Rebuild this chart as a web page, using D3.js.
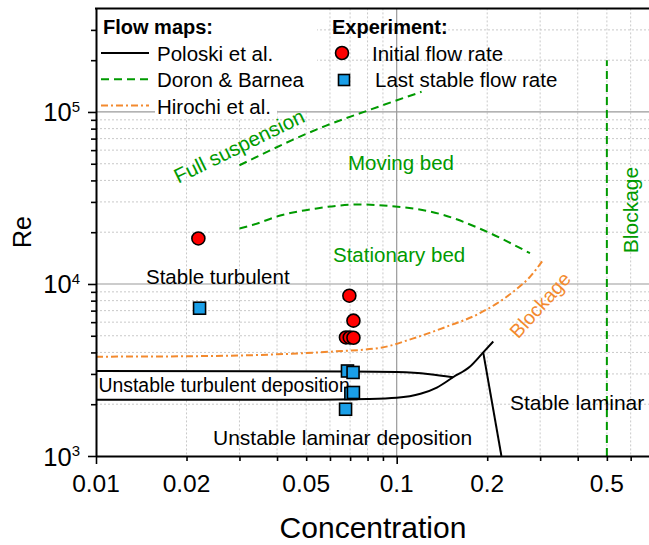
<!DOCTYPE html>
<html>
<head>
<meta charset="utf-8">
<title>Flow map</title>
<script src="https://cdn.jsdelivr.net/npm/d3@7"></script>
<style>
  body { margin: 0; background: #fff; }
  svg text { font-family: "Liberation Sans", Arial, sans-serif; fill: #000; }
</style>
</head>
<body>
<svg id="chart" width="649" height="545"></svg>
<script>
// tick values
var xLabels = [0.01, 0.02, 0.05, 0.1, 0.2, 0.5];
var xMajor = [0.01, 0.1];
var xMinor = [0.02, 0.03, 0.04, 0.05, 0.06, 0.07, 0.08, 0.09, 0.2, 0.3, 0.4, 0.5, 0.6];
var yMajor = [1e3, 1e4, 1e5];
var yMinor = [2e3, 3e3, 4e3, 5e3, 6e3, 7e3, 8e3, 9e3, 2e4, 3e4, 4e4, 5e4, 6e4, 7e4, 8e4, 9e4, 2e5, 3e5];

// Poloski et al. (concentration, Re)
var poloskiUpper = [[0.01, 3120], [0.07, 3100], [0.1, 3080], [0.114, 3050], [0.129, 2990], [0.154, 2870]];
var poloskiLower = [[0.01, 2120], [0.05, 2125], [0.08, 2145], [0.1, 2180], [0.12, 2300], [0.136, 2500],
                    [0.154, 2870], [0.175, 3300], [0.194, 4000], [0.2095, 4630]];
var poloskiLaminar = [[0.194, 4000], [0.223, 1000]];

// Doron & Barnea
var doronSuspension = [[0.030, 49000], [0.058, 83000], [0.0815, 103000], [0.121, 131000]];
var doronBed = [[0.030, 21000], [0.0331, 22000], [0.041, 25000], [0.0542, 27500], [0.075, 29000],
                [0.0902, 28600], [0.143, 25200], [0.1936, 20600], [0.2775, 15100]];
var doronBlockage = [[0.5, 1000], [0.5, 200000]];

// Hirochi et al.
var hirochi = [[0.01, 3780], [0.02, 3800], [0.04, 3900], [0.06, 4040], [0.088, 4250], [0.1136, 4830],
               [0.1466, 5650], [0.189, 6760], [0.2443, 9020], [0.2775, 11000], [0.307, 13800]];

// experiments
var initialRate = [[0.0219, 18400], [0.0696, 8550], [0.0718, 6120], [0.0678, 4890], [0.0698, 4890], [0.0718, 4870]];
var lastStable = [[0.0221, 7230], [0.0686, 3120], [0.0716, 3060], [0.0704, 2310], [0.0718, 2340], [0.0676, 1870]];

var green = '#009a00', orange = '#f38a2e', red = '#ff0000', blue = '#1a9fe8';

var x = d3.scaleLog().domain([0.01, 0.7]).range([96, 650.8]);
var y = d3.scaleLog().domain([1000, 4e5]).range([456, 8.4]);

var svg = d3.select('#chart');
svg.append('rect').attr('width', 649).attr('height', 545).attr('fill', '#fff');

svg.append('defs').append('clipPath').attr('id', 'clip')
  .append('rect').attr('x', 96).attr('y', 8.4).attr('width', 554.8).attr('height', 447.6);

// grid
var grid = svg.append('g');
grid.selectAll('.vmin').data(xMinor).enter().append('line')
  .attr('x1', function(d){ return x(d); }).attr('x2', function(d){ return x(d); })
  .attr('y1', y(4e5)).attr('y2', y(1000))
  .attr('stroke', '#c9c9c9').attr('stroke-dasharray', '2,2');
grid.selectAll('.hmin').data(yMinor).enter().append('line')
  .attr('x1', x(0.01)).attr('x2', x(0.7))
  .attr('y1', function(d){ return y(d); }).attr('y2', function(d){ return y(d); })
  .attr('stroke', '#c9c9c9').attr('stroke-dasharray', '2,2');
grid.append('line')
  .attr('x1', x(0.1)).attr('x2', x(0.1)).attr('y1', y(4e5)).attr('y2', y(1000))
  .attr('stroke', '#9a9a9a').attr('stroke-width', 1.2);
grid.selectAll('.hmaj').data([1e4, 1e5]).enter().append('line')
  .attr('x1', x(0.01)).attr('x2', x(0.7))
  .attr('y1', function(d){ return y(d); }).attr('y2', function(d){ return y(d); })
  .attr('stroke', '#9a9a9a').attr('stroke-width', 1.2);

// legend background
svg.append('rect').attr('x', 97).attr('y', 9).attr('width', 220).attr('height', 101).attr('fill', '#fff');
svg.append('rect').attr('x', 155).attr('y', 94).attr('width', 122).attr('height', 24).attr('fill', '#fff');

// box behind "Unstable turbulent deposition"
svg.append('rect').attr('x', 97).attr('y', y(3120)).attr('width', 248)
  .attr('height', y(2120) - y(3120)).attr('fill', '#fff');

var plot = svg.append('g').attr('clip-path', 'url(#clip)');
var smooth = d3.line().x(function(d){ return x(d[0]); }).y(function(d){ return y(d[1]); }).curve(d3.curveMonotoneX);
var straight = d3.line().x(function(d){ return x(d[0]); }).y(function(d){ return y(d[1]); });

function curve(data, gen, color, dash) {
  plot.append('path').datum(data).attr('d', gen)
    .attr('fill', 'none').attr('stroke', color).attr('stroke-width', 2)
    .attr('stroke-dasharray', dash || null);
}
curve(hirochi, smooth, orange, '7,3,2,3');
curve(doronSuspension, smooth, green, '8,5');
curve(doronBed, smooth, green, '8,5');
curve(doronBlockage, straight, green, '8,5');
curve(poloskiUpper, smooth, '#000');
curve(poloskiLower, smooth, '#000');
curve(poloskiLaminar, straight, '#000');

// region labels
function label(t, px, py, size, color, rot) {
  var el = svg.append('text').text(t).attr('font-size', size + 'px').style('fill', color || '#000');
  if (rot) {
    el.attr('text-anchor', 'middle').attr('transform', 'translate(' + px + ',' + py + ') rotate(' + rot + ')');
  } else {
    el.attr('x', px).attr('y', py);
  }
  return el;
}
label('Full suspension', 239, 146, 20.5, green, -26).attr('dy', '0.35em');
label('Moving bed', 348, 170, 20.5, green);
label('Stationary bed', 333, 262, 20.5, green);
label('Stable turbulent', 146, 284, 20.5);
label('Unstable turbulent deposition', 98.5, 392, 19.4);
label('Unstable laminar deposition', 213, 445, 21);
label('Stable laminar', 510, 410, 21);
label('Blockage', 540, 305, 19.5, orange, -48).attr('dy', '0.35em');
label('Blockage', 638, 210, 21, green, -90);

// experiment markers
svg.selectAll('.sq').data(lastStable).enter().append('rect')
  .attr('x', function(d){ return x(d[0]) - 6; }).attr('y', function(d){ return y(d[1]) - 6; })
  .attr('width', 12).attr('height', 12)
  .attr('fill', blue).attr('stroke', '#000').attr('stroke-width', 1.6);
svg.selectAll('.ci').data(initialRate).enter().append('circle')
  .attr('cx', function(d){ return x(d[0]); }).attr('cy', function(d){ return y(d[1]); })
  .attr('r', 6.5)
  .attr('fill', red).attr('stroke', '#000').attr('stroke-width', 1.6);

// axes
function styleAxis(g) {
  g.select('.domain').attr('stroke', '#000').attr('stroke-width', 2);
  g.selectAll('.tick line').attr('stroke', '#000').attr('stroke-width', 1.6);
}
var gy = svg.append('g').attr('transform', 'translate(96,0)')
  .call(d3.axisLeft(y).tickValues(yMajor).tickSize(8).tickSizeOuter(0).tickFormat(''));
styleAxis(gy);
var gy2 = svg.append('g').attr('transform', 'translate(96,0)')
  .call(d3.axisLeft(y).tickValues(yMinor).tickSize(5).tickSizeOuter(0).tickFormat(''));
styleAxis(gy2);
gy2.select('.domain').remove();

var gx = svg.append('g').attr('transform', 'translate(0,456)')
  .call(d3.axisBottom(x).tickValues(xMajor).tickSize(8).tickSizeOuter(0).tickFormat(''));
styleAxis(gx);
var gx2 = svg.append('g').attr('transform', 'translate(0,456)')
  .call(d3.axisBottom(x).tickValues(xMinor).tickSize(5).tickSizeOuter(0).tickFormat(''));
styleAxis(gx2);
gx2.select('.domain').remove();

svg.append('line').attr('x1', 95).attr('x2', 651).attr('y1', 8.4).attr('y2', 8.4)
  .attr('stroke', '#000').attr('stroke-width', 2);

// tick labels
svg.selectAll('.xl').data(xLabels).enter().append('text')
  .attr('x', function(d){ return x(d); }).attr('y', 492)
  .attr('text-anchor', 'middle').attr('font-size', '24.5px')
  .text(function(d){ return String(d); });
var yl = svg.selectAll('.yl').data(yMajor).enter().append('text')
  .attr('x', 80).attr('y', function(d){ return y(d) + 9.5; })
  .attr('text-anchor', 'end');
yl.append('tspan').attr('font-size', '25.5px').text('10');
yl.append('tspan').attr('font-size', '15px').attr('dy', -9.5)
  .text(function(d){ return Math.round(Math.log10(d)); });

// axis titles
svg.append('text').attr('x', 373).attr('y', 538).attr('text-anchor', 'middle')
  .attr('font-size', '30px').text('Concentration');
svg.append('text').attr('transform', 'translate(31,232) rotate(-90)').attr('text-anchor', 'middle')
  .attr('font-size', '25px').text('Re');

// legend
var lg = svg.append('g');
lg.append('text').attr('x', 103).attr('y', 34).attr('font-size', '20px').attr('font-weight', 'bold').text('Flow maps:');
var flowItems = [
  { name: 'Poloski et al.', color: '#000', dash: null },
  { name: 'Doron & Barnea', color: green, dash: '8,5' },
  { name: 'Hirochi et al.', color: orange, dash: '7,3,2,3' }
];
flowItems.forEach(function(it, i) {
  var yy = 53 + i * 26.3;
  lg.append('line').attr('x1', 101).attr('x2', 149).attr('y1', yy).attr('y2', yy)
    .attr('stroke', it.color).attr('stroke-width', 2).attr('stroke-dasharray', it.dash);
  lg.append('text').attr('x', 157).attr('y', yy + 8).attr('font-size', '20.5px').text(it.name);
});
lg.append('text').attr('x', 332).attr('y', 34).attr('font-size', '20px').attr('font-weight', 'bold').text('Experiment:');
lg.append('circle').attr('cx', 342).attr('cy', 53).attr('r', 6.5)
  .attr('fill', red).attr('stroke', '#000').attr('stroke-width', 1.6);
lg.append('text').attr('x', 372).attr('y', 61).attr('font-size', '20.5px').text('Initial flow rate');
lg.append('rect').attr('x', 338.5).attr('y', 74.5).attr('width', 11).attr('height', 11)
  .attr('fill', blue).attr('stroke', '#000').attr('stroke-width', 1.6);
lg.append('text').attr('x', 375).attr('y', 87).attr('font-size', '20.5px').text('Last stable flow rate');
</script>
</body>
</html>
